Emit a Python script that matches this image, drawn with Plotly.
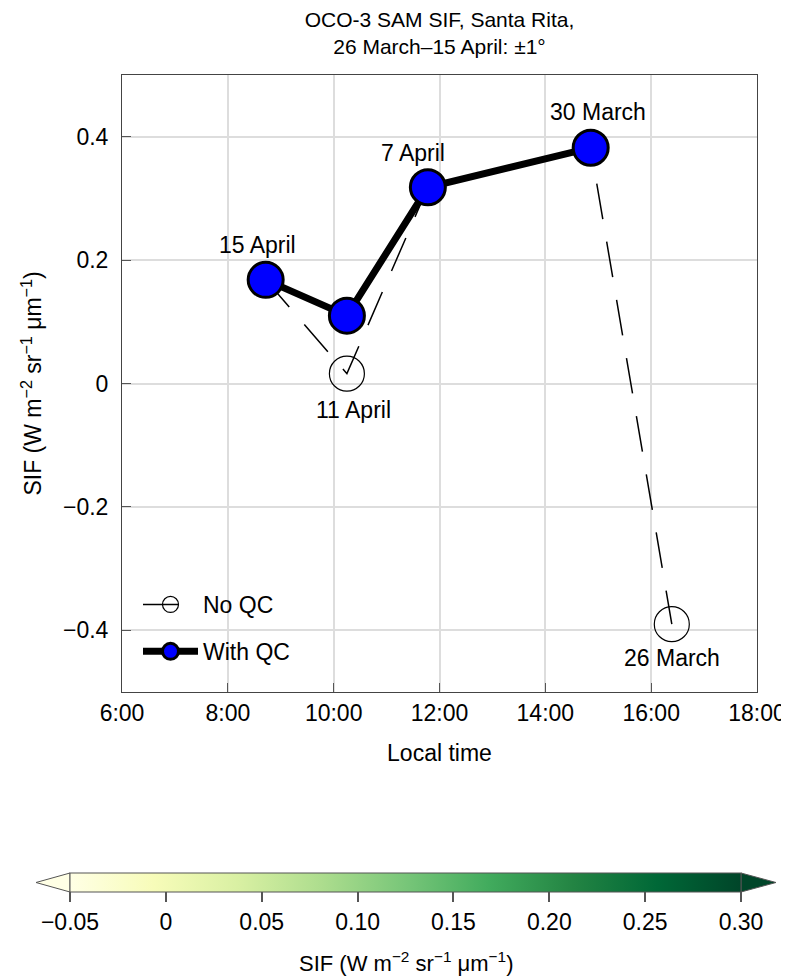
import plotly.graph_objects as go

# ---- data ----
dates = ["15 April", "11 April", "7 April", "30 March", "26 March"]
noqc_time = [8.715, 10.25, 11.78, 14.857, 16.39]          # local time, hours
noqc_sif = [0.168, 0.016, 0.318, 0.382, -0.390]          # SIF without QC
qc_dates = ["15 April", "11 April", "7 April", "30 March"]
qc_time = [8.715, 10.25, 11.78, 14.857]
qc_sif = [0.168, 0.110, 0.318, 0.382]                    # SIF with QC

x_tickvals = [6, 8, 10, 12, 14, 16, 18]
x_ticktext = ["6:00", "8:00", "10:00", "12:00", "14:00", "16:00", "18:00"]
y_tickvals = [-0.4, -0.2, 0, 0.2, 0.4]
y_ticktext = ["\u22120.4", "\u22120.2", "0", "0.2", "0.4"]

cbar_min, cbar_max = -0.05, 0.30
cbar_tickvals = [-0.05, 0, 0.05, 0.10, 0.15, 0.20, 0.25, 0.30]
cbar_ticktext = ["\u22120.05", "0", "0.05", "0.10", "0.15", "0.20", "0.25", "0.30"]

# label styling: pixel offsets of each date label from its point
label_offsets = {"15 April": (-8, 35), "11 April": (7, -36), "7 April": (-15, 34),
                 "30 March": (7, 36), "26 March": (0, -34)}

FONT = "Liberation Sans, Arial, Helvetica, sans-serif"
FS = 23
OFF = 8                      # page body margin of the browser
W, H = 789 - OFF, 980 - OFF
# plot frame in window pixels: x 122..757, y 75..692
ML, MT = 122 - OFF, 75 - OFF
MR, MB = W - (757 - OFF), H - (692 - OFF)
PW, PH = W - ML - MR, H - MT - MB


def px2x(px):  # window px -> paper x
    return (px - OFF - ML) / PW


def py2y(py):  # window px -> paper y
    return (MT + PH - (py - OFF)) / PH


fig = go.Figure()

fig.add_trace(go.Scatter(
    x=noqc_time, y=noqc_sif, mode="lines+markers", name="No QC",
    line=dict(color="black", width=1.5, dash="36px,23px"),
    marker=dict(symbol="circle-open", size=35, color="black", line=dict(width=1.2, color="black")),
    legendgroup="a", hoverinfo="skip",
))
fig.add_trace(go.Scatter(
    x=qc_time, y=qc_sif, mode="lines+markers", name="With QC",
    line=dict(color="black", width=7),
    marker=dict(symbol="circle", size=35, color="#0000ff", line=dict(width=3, color="black")),
    legendgroup="b", hoverinfo="skip",
))
# invisible carrier for the colour bar
fig.add_trace(go.Scatter(
    x=qc_time, y=qc_sif, mode="markers", showlegend=False, hoverinfo="skip",
    marker=dict(size=1, opacity=0, color=qc_sif, colorscale="YlGn", cmin=cbar_min, cmax=cbar_max,
                showscale=True,
                colorbar=dict(orientation="h", lenmode="pixels", len=671, thickness=19,
                              x=px2x(405.5), xanchor="center",
                              y=py2y(873), yanchor="top", xpad=0, ypad=0,
                              outlinewidth=1, outlinecolor="#555555",
                              tickmode="array", tickvals=cbar_tickvals, ticktext=cbar_ticktext,
                              ticks="outside", ticklen=10, tickwidth=1.5, tickcolor="#555555",
                              tickfont=dict(size=FS, color="black", family=FONT)))
))

# date labels
annotations = []
for d, t, s in zip(dates, noqc_time, noqc_sif):
    if d in qc_dates and d != "11 April":
        i = qc_dates.index(d)
        t, s = qc_time[i], qc_sif[i]
    dx, dy = label_offsets[d]
    annotations.append(dict(x=t, y=s, text=d, showarrow=False, xshift=dx, yshift=dy,
                            font=dict(size=FS, color="black", family=FONT)))
# colour bar title
annotations.append(dict(xref="paper", yref="paper", x=px2x(405.5), y=py2y(962),
                        xanchor="center", yanchor="middle", showarrow=False,
                        text="SIF (W m<sup>\u22122</sup> sr<sup>\u22121</sup> \u03bcm<sup>\u22121</sup>)",
                        font=dict(size=22, color="black", family=FONT)))

# colour bar end triangles (paper coords)
shapes = [
    dict(type="path", xref="paper", yref="paper",
         path=f"M {px2x(70)} {py2y(873)} L {px2x(36)} {py2y(882.5)} L {px2x(70)} {py2y(892)} Z",
         fillcolor="#ffffe5", line=dict(color="#555555", width=1), layer="above"),
    dict(type="path", xref="paper", yref="paper",
         path=f"M {px2x(741)} {py2y(873)} L {px2x(776)} {py2y(882.5)} L {px2x(741)} {py2y(892)} Z",
         fillcolor="#004529", line=dict(color="#555555", width=1), layer="above"),
]

fig.update_layout(
    width=W, height=H,
    margin=dict(l=ML, r=MR, t=MT, b=MB, autoexpand=False),
    paper_bgcolor="white", plot_bgcolor="white",
    font=dict(family=FONT, size=FS, color="black"),
    title=dict(text="OCO-3 SAM SIF, Santa Rita,<br>26 March\u201315 April: \u00b11\u00b0",
               x=(ML + PW / 2) / W, xanchor="center", y=1 - 19 / H, yanchor="top",
               font=dict(size=21, color="black", family=FONT)),
    showlegend=True,
    legend=dict(x=px2x(138), xanchor="left", y=py2y(583), yanchor="top",
                bgcolor="rgba(0,0,0,0)", borderwidth=0, tracegroupgap=14, itemwidth=55,
                font=dict(size=FS, color="black", family=FONT)),
    annotations=annotations,
    shapes=shapes,
)
fig.update_xaxes(range=[6, 18], tickmode="array", tickvals=x_tickvals, ticktext=x_ticktext,
                 showgrid=True, gridcolor="#dddddd", gridwidth=1.5,
                 showline=True, linecolor="#444444", linewidth=1, mirror=True,
                 ticks="inside", ticklen=9, tickcolor="#555555", zeroline=False,
                 tickfont=dict(size=FS), title=dict(text="Local time", standoff=20, font=dict(size=FS)))
fig.update_yaxes(range=[-0.5, 0.5], tickmode="array", tickvals=y_tickvals, ticktext=y_ticktext,
                 showgrid=True, gridcolor="#dddddd", gridwidth=1.5,
                 showline=True, linecolor="#444444", linewidth=1, mirror=True,
                 ticks="inside", ticklen=9, tickcolor="#555555", zeroline=False,
                 tickfont=dict(size=FS), ticklabelstandoff=8,
                 title=dict(text="SIF (W m<sup>\u22122</sup> sr<sup>\u22121</sup> \u03bcm<sup>\u22121</sup>)",
                            standoff=14, font=dict(size=FS)))

fig.write_html("out.html")
